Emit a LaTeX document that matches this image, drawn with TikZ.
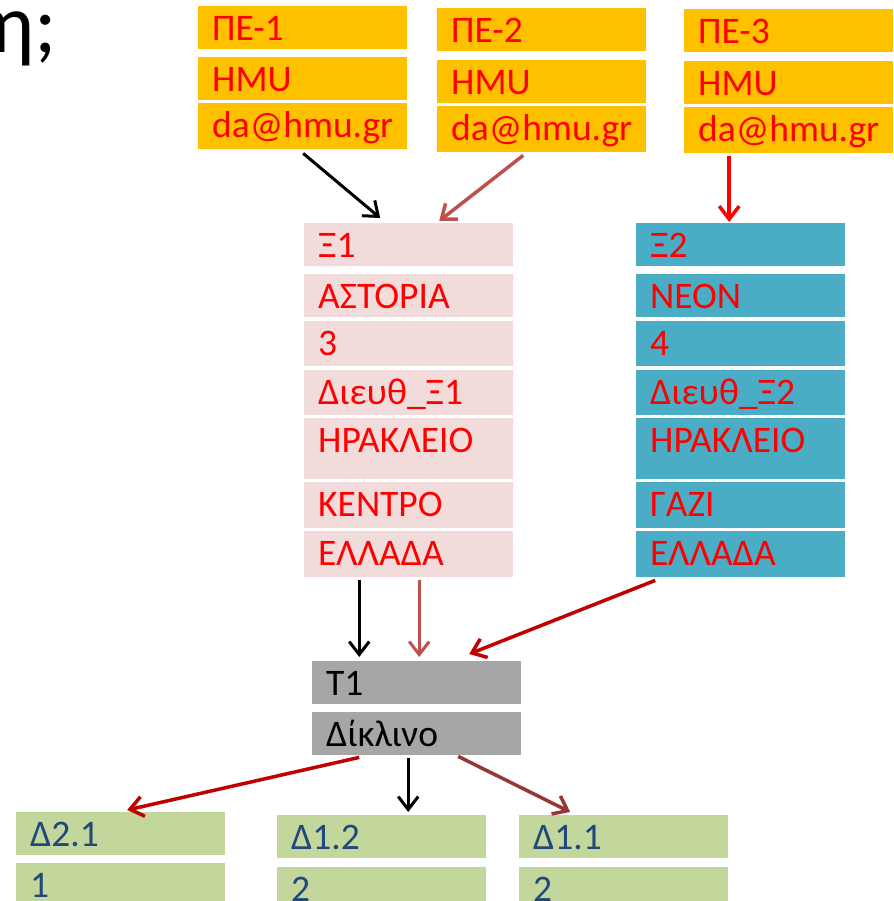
\documentclass[tikz,border=0pt]{standalone}
\usepackage{fontspec}
\setmainfont{Carlito}
\usetikzlibrary{arrows.meta,calc}
\definecolor{orangeC}{HTML}{FFC000}
\definecolor{pinkC}{HTML}{F2DCDB}
\definecolor{tealC}{HTML}{4BACC6}
\definecolor{grayC}{HTML}{A6A6A6}
\definecolor{greenC}{HTML}{C3D69B}
\definecolor{navyC}{HTML}{1F497D}
\definecolor{redA}{HTML}{FF0000}
\definecolor{dredA}{HTML}{C00000}
\definecolor{roseA}{HTML}{C0504D}
\definecolor{brownA}{HTML}{953735}
\begin{document}
\begin{tikzpicture}[x=1pt,y=-1pt,
  cell/.style={rectangle, anchor=north west, inner xsep=14pt, inner ysep=0pt,
    text height=34pt, text depth=9pt, text width=181pt, align=left,
    font=\fontsize{37.5}{40}\selectfont},
  hA/.style={text depth=9pt},
  hB/.style={text depth=11pt},
  hC/.style={text depth=12pt},
  hD/.style={text depth=27pt},
  ocell/.style={cell, fill=orangeC, text=redA},
  pcell/.style={cell, fill=pinkC, text=redA},
  tcell/.style={cell, fill=tealC, text=redA},
  gcell/.style={cell, fill=grayC, text=black},
  ecell/.style={cell, fill=greenC, text=navyC},
  conn/.style={line width=3pt, -{Straight Barb[length=13pt,width=20pt]}},
  connw/.style={line width=3.5pt, -{Straight Barb[length=13pt,width=20pt]}}
]
\useasboundingbox (0,0) rectangle (893,901);
\fill[white] (0,0) rectangle (893,901);

\node (eta) [anchor=base west, inner sep=0pt, font=\fontsize{84}{90}\selectfont] at (-11,53) {η;};

% orange column 1
\node (p1a) [ocell, hA] at (198,6) {ΠΕ-1};
\node (p1b) [ocell, hA] at (198,57) {HMU};
\node (p1c) [ocell, hC] at (198,103) {da@hmu.gr};
% orange column 2
\node (p2a) [ocell, hA] at (437,8) {ΠΕ-2};
\node (p2b) [ocell, hA] at (437,60) {HMU};
\node (p2c) [ocell, hC] at (437,106) {da@hmu.gr};
% orange column 3
\node (p3a) [ocell, hA] at (684,9) {ΠΕ-3};
\node (p3b) [ocell, hA] at (684,61) {HMU};
\node (p3c) [ocell, hC] at (684,107) {da@hmu.gr};

% Xi1
\node (x1a) [pcell, hA] at (304,223) {Ξ1};
\node (x1b) [pcell, hA] at (304,274) {ΑΣΤΟΡΙΑ};
\node (x1c) [pcell, hB] at (304,321) {3};
\node (x1d) [pcell, hB] at (304,370) {Διευθ\_Ξ1};
\node (x1e) [pcell, hD] at (304,418) {ΗΡΑΚΛΕΙΟ};
\node (x1f) [pcell, hC] at (304,482) {ΚΕΝΤΡΟ};
\node (x1g) [pcell, hC] at (304,531) {ΕΛΛΑΔΑ};
% Xi2
\node (x2a) [tcell, hA] at (636,223) {Ξ2};
\node (x2b) [tcell, hA] at (636,274) {ΝΕΟΝ};
\node (x2c) [tcell, hB] at (636,321) {4};
\node (x2d) [tcell, hB] at (636,370) {Διευθ\_Ξ2};
\node (x2e) [tcell, hD] at (636,418) {ΗΡΑΚΛΕΙΟ};
\node (x2f) [tcell, hC] at (636,482) {ΓΑΖΙ};
\node (x2g) [tcell, hC] at (636,531) {ΕΛΛΑΔΑ};

% T1
\node (t1a) [gcell, hA] at (312,661) {Τ1};
\node (t1b) [gcell, hA] at (312,712) {Δίκλινο};

% Delta boxes
\node (d21a) [ecell, hA] at (16,812) {Δ2.1};
\node (d21b) [ecell, hC] at (16,863) {1};
\node (d12a) [ecell, hA] at (277,815) {Δ1.2};
\node (d12b) [ecell, hC] at (277,867) {2};
\node (d11a) [ecell, hA] at (519,815) {Δ1.1};
\node (d11b) [ecell, hC] at (519,867) {2};

% connectors
\draw[conn, black] ($(p1c.south)+(0.5,4)$) -- ($(x1a.north)+(-28.5,-5)$);
\draw[connw, roseA] ($(p2c.south)+(-18.5,3)$) -- ($(x1a.north)+(30.5,-2)$);
\draw[connw, redA] ($(p3c.south)+(-59.5,3)$) -- ($(x2a.north)+(-11.5,-1)$);
\draw[conn, black] ($(x1g.south)+(-49.5,3)$) -- ($(t1a.north)+(-57.5,-4)$);
\draw[conn, roseA] ($(x1g.south)+(10.5,3)$) -- ($(t1a.north)+(2.5,-4)$);
\draw[connw, dredA] ($(x2g.south)+(-85.5,3)$) -- ($(t1a.north)+(52.5,-7)$);
\draw[connw, dredA] ($(t1b.south)+(-57.5,2)$) -- ($(d21a.north)+(6.5,-2)$);
\draw[conn, black] ($(t1b.south)+(-8.5,3)$) -- ($(d12a.north)+(26.5,-3)$);
\draw[connw, brownA] ($(t1b.south)+(41.5,1)$) -- ($(d11a.north)+(-53.5,-3)$);
\end{tikzpicture}
\end{document}
